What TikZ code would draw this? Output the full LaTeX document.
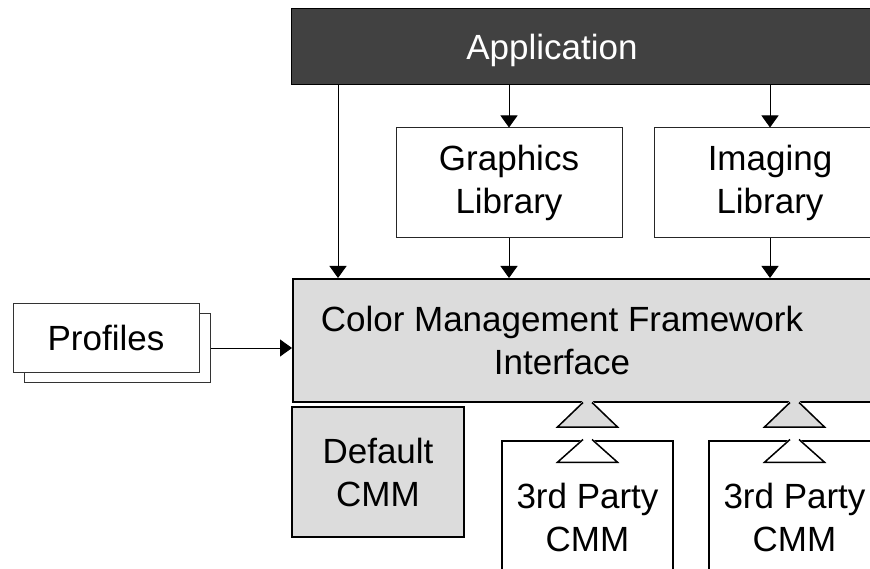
\documentclass[tikz,border=0pt]{standalone}
\usepackage{fontspec}
\setmainfont{Liberation Sans}
\usetikzlibrary{arrows.meta}

\definecolor{appdark}{HTML}{414141}
\definecolor{cmmgray}{HTML}{DCDCDC}

\tikzset{
  every box/.style={rectangle, draw=black, inner sep=0pt, align=center},
  app box/.style={every box, fill=appdark, line width=1pt, minimum width=620pt, minimum height=76pt},
  lib box/.style={every box, draw=black!85, fill=white, line width=1pt, minimum width=226pt, minimum height=110pt},
  cmf box/.style={every box, fill=cmmgray, line width=2pt, minimum width=620pt, minimum height=123pt},
  profile box/.style={every box, draw=black!80, fill=white, line width=1pt, minimum width=186pt, minimum height=69pt},
  default box/.style={every box, fill=cmmgray, line width=2pt, minimum width=172pt, minimum height=130pt},
  cmm box/.style={every box, fill=white, line width=1.5pt, minimum width=171pt, minimum height=152pt},
  plug/.style={line width=1.5pt, line join=miter}
}

\begin{document}
\begin{tikzpicture}[x=1pt, y=-1pt, >={Triangle[width=17pt,length=12pt]}, line width=1pt,
    font=\fontsize{35}{43}\selectfont]
  \path[use as bounding box] (0,0) rectangle (870,569);
  \clip (0,0) rectangle (870,569);

  % top row
  \node[app box, anchor=north west] (app) at (291,8) {};
  \node[text=white] (app-text) at (552,50) {Application};

  \node[lib box] (lib-1) at (509,183) {Graphics\\Library};
  \node[lib box, minimum width=232pt] (lib-2) at (770,183) {Imaging\\Library};

  % framework
  \node[cmf box, anchor=north west] (cmf) at (292,278) {};
  \node[align=center] (cmf-text) at (562,340) {Color Management Framework\\Interface};

  \node[profile box] (profiles-2) at (117,348) {};
  \node[profile box] (profiles-1) at (106,338) {Profiles};

  % modules
  \node[default box] (cmm-0) at (378,472) {Default\\CMM};
  \foreach \x [count=\i] in {587.5,794.5}
    \node[cmm box] (cmm-\i) at (\x,517) {3rd Party\\CMM};

  \coordinate (direct) at (338,0);
  \draw[->] (app.south -| direct) -- (cmf.north -| direct);
  \foreach \i in {1,2}{
    \draw[->] (app.south -| lib-\i.north) -- (lib-\i.north);
    \draw[->] (lib-\i.south) -- (lib-\i.south |- cmf.north);
  }
  \draw[->] (profiles-2.east) -- (profiles-2.east -| cmf.west);

  \foreach \i in {1,2}{
    \begin{scope}[shift={(cmm-\i.north |- cmf.south)}]
      \fill[cmmgray] (-4.5,-2.5) -- (-30,24) -- (30,24) -- (4.5,-2.5) -- cycle;
      \draw[plug] (-4.5,-0.5) -- (-30,24) -- (30,24) -- (4.5,-0.5);
    \end{scope}
    \begin{scope}[shift={(cmm-\i.north)}]
      \fill[white] (-4.5,-2) -- (-30,22) -- (30,22) -- (4.5,-2) -- cycle;
      \draw[plug] (-4.5,-0.75) -- (-30,22) -- (30,22) -- (4.5,-0.75);
    \end{scope}
  }
\end{tikzpicture}
\end{document}
